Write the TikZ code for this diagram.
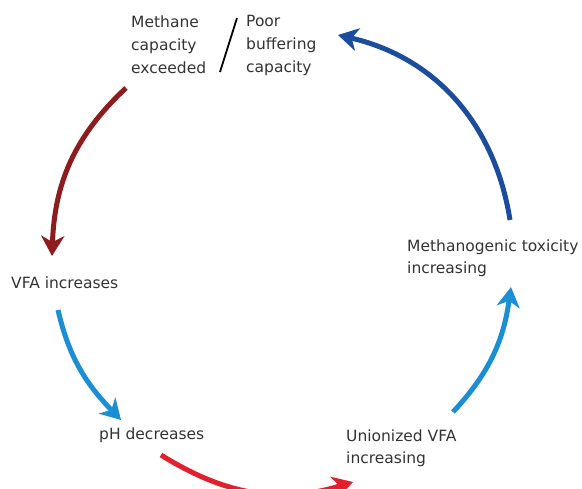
\documentclass[tikz,border=0pt]{standalone}
\usepackage{fontspec}
\setmainfont{DejaVu Sans}
\usetikzlibrary{arrows.meta}
\definecolor{txt}{HTML}{333333}
\definecolor{darkred}{HTML}{8E1B1E}
\definecolor{lightblue}{HTML}{1B8FD6}
\definecolor{brightred}{HTML}{E21F2B}
\definecolor{darkblue}{HTML}{1C4C9E}
\begin{document}
\begin{tikzpicture}[x=1pt,y=1pt,
  lbl/.style={text=txt, font=\fontsize{15.5}{23}\selectfont, align=left, inner sep=0pt, anchor=west},
  cyc/.style={line width=5pt, -{Stealth[length=20pt,width=23pt,inset=6pt]}}]
\useasboundingbox (0,0) rectangle (582,-489);
% text nodes
\node[lbl] (meth) at (131,-45) {Methane\\capacity\\exceeded};
\node[lbl] (poor) at (246,-45) {Poor\\buffering\\capacity};
\node[lbl] (vfa) at (11,-283) {VFA increases};
\node[lbl] (ph) at (99,-435) {pH decreases};
\node[lbl, font=\fontsize{15.5}{21.5}\selectfont] (unio) at (346,-448) {Unionized VFA\\increasing};
\node[lbl, font=\fontsize{15.5}{21.5}\selectfont] (tox) at (407,-258) {Methanogenic toxicity\\increasing};
% slash
\coordinate (s1) at (237,-18);
\coordinate (s2) at (220,-72);
\draw[line width=1.8pt, black] (s1) -- (s2);
% arrow end points
\coordinate (a1) at (126,-88);
\coordinate (a2) at (52,-256);
\coordinate (b1) at (58,-310);
\coordinate (b2) at (121,-420);
\coordinate (c1) at (161,-455);
\coordinate (c2) at (353,-482);
\coordinate (d1) at (453,-412);
\coordinate (d2) at (511,-287);
\coordinate (e1) at (510,-220);
\coordinate (e2) at (338,-35);
\draw[cyc, darkred] (a1) to[out=223, in=88] (a2);
\draw[cyc, lightblue] (b1) to[out=283, in=134] (b2);
\draw[cyc, brightred] (c1) to[out=328, in=197] (c2);
\draw[cyc, lightblue] (d1) to[out=47, in=262] (d2);
\draw[cyc, darkblue] (e1) to[out=99, in=347] (e2);
\end{tikzpicture}
\end{document}
